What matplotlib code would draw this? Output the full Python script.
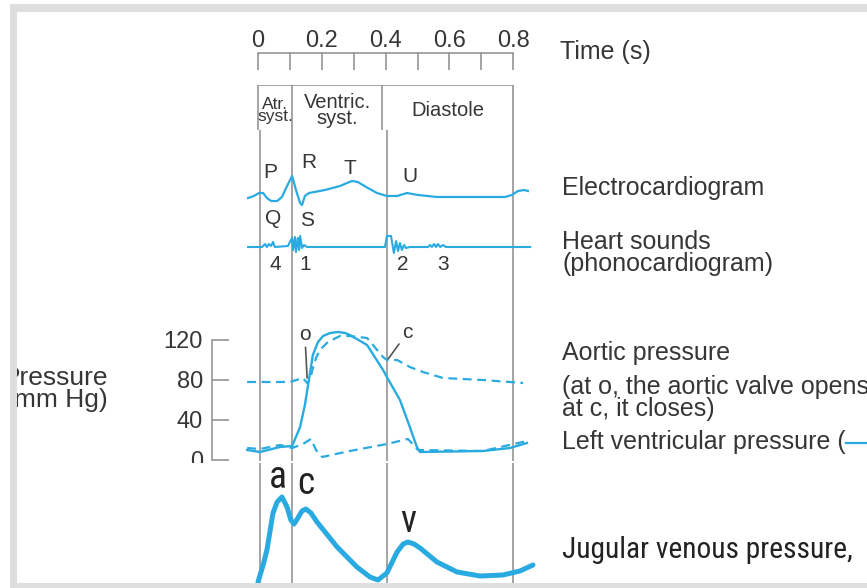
import matplotlib
matplotlib.use('Agg')
import matplotlib.pyplot as plt
from matplotlib import font_manager
from matplotlib.patches import Rectangle
from matplotlib.lines import Line2D

W, H = 867, 588
CYAN = '#29abe2'
GRAY = '#8c8c8c'
INK = '#363636'

# time ruler and phases of the cardiac cycle (s)
ruler_major = [0, 0.2, 0.4, 0.6, 0.8]
ruler_minor = [0.1, 0.3, 0.5, 0.7]
phase_edges = [0.0, 0.107, 0.389, 0.8]
phase_names = ['Atr.\nsyst.', 'Ventric.\nsyst.', 'Diastole']
cycle_lines = [0.005, 0.107, 0.404, 0.8]

# electrocardiogram (arbitrary units)
ecg_t = [-0.031, -0.013, 0.003, 0.016, 0.028, 0.041, 0.060, 0.075, 0.091, 0.107,
         0.119, 0.132, 0.138, 0.147, 0.160, 0.210, 0.257, 0.279, 0.295, 0.313,
         0.339, 0.373, 0.404, 0.436, 0.467, 0.502, 0.561, 0.774, 0.796, 0.815,
         0.834, 0.846]
ecg_v = [-0.1, 0.1, 0.4, 0.4, -0.1, -0.4, -0.4, 0.0, 1.1, 2.1,
         0.7, -0.6, -0.8, 0.1, 0.4, 0.7, 1.1, 1.4, 1.6, 1.5,
         1.0, 0.4, 0.1, 0.1, 0.4, 0.2, 0.0, 0.0, 0.2, 0.6,
         0.7, 0.6]
ecg_labels = ['P', 'R', 'T', 'U', 'Q', 'S']
ecg_label_t = [0.038, 0.160, 0.288, 0.476, 0.047, 0.154]
ecg_label_v = [2.4, 3.5, 2.9, 2.0, -2.1, -2.3]

# phonocardiogram (arbitrary units)
snd_t = [-0.031, 0.013, 0.022, 0.028, 0.034, 0.041, 0.047, 0.053, 0.094, 0.100,
         0.107, 0.110, 0.116, 0.119, 0.125, 0.129, 0.132, 0.138, 0.144, 0.154,
         0.398, 0.404, 0.417, 0.426, 0.433, 0.439, 0.445, 0.451, 0.458, 0.464,
         0.476, 0.533, 0.539, 0.545, 0.552, 0.558, 0.564, 0.571, 0.580, 0.589,
         0.853]
snd_v = [0, 0, 0.3, 0, 0.3, 0.1, 0.5, 0, 0.1, 0.5,
         0.9, -0.3, 1.0, -0.5, 0.9, -0.3, 1.1, -0.1, 0.2, 0,
         0, 1.1, 1.1, -0.6, 0.6, -0.4, 0.4, -0.3, 0.2, -0.1,
         0, 0, 0.2, 0, 0.3, 0, 0.3, 0, 0.2, 0,
         0]
snd_labels = ['4', '1', '2', '3']
snd_label_t = [0.053, 0.147, 0.455, 0.580]

# pressures (mm Hg)
aortic_t = [-0.034, 0.100, 0.141, 0.154, 0.163, 0.172, 0.182, 0.194, 0.219, 0.257,
            0.288, 0.342, 0.392, 0.404, 0.436, 0.476, 0.517, 0.580, 0.705, 0.831]
aortic_p = [78, 78, 82, 77, 80, 92, 102, 110, 118, 124,
            124, 122, 103, 100, 100, 93, 88, 82, 80, 77]
lv_t = [-0.034, 0.006, 0.069, 0.107, 0.132, 0.147, 0.157, 0.172, 0.188, 0.204,
        0.226, 0.251, 0.273, 0.288, 0.342, 0.392, 0.404, 0.445, 0.476, 0.498,
        0.508, 0.705, 0.790, 0.843]
lv_p = [10, 8, 13, 14, 33, 55, 75, 105, 118, 124,
        127, 128, 127, 125, 115, 90, 83, 60, 33, 13,
        8, 9, 12, 17]
la_t = [-0.034, 0.006, 0.069, 0.107, 0.141, 0.166, 0.182, 0.201, 0.288, 0.404,
        0.470, 0.502, 0.705, 0.843]
la_p = [12, 11, 15, 12, 16, 21, 10, 3, 9, 16,
        21, 10, 9, 19]
p_ticks = [0, 40, 80, 120]

# jugular venous pressure (arbitrary units)
jvp_t = [0.000, 0.016, 0.028, 0.047, 0.060, 0.075, 0.091, 0.103, 0.113, 0.125,
         0.138, 0.150, 0.166, 0.185, 0.248, 0.310, 0.351, 0.376, 0.404, 0.436,
         0.455, 0.470, 0.489, 0.508, 0.561, 0.624, 0.696, 0.768, 0.821, 0.862]
jvp_v = [0.3, 2.0, 3.5, 7.2, 8.3, 8.8, 7.8, 6.5, 6.1, 6.7,
         7.4, 7.6, 7.2, 6.3, 3.8, 1.8, 0.8, 0.5, 1.2, 3.3,
         4.1, 4.3, 4.1, 3.7, 2.3, 1.3, 0.9, 1.0, 1.4, 2.0]
jvp_labels = ['a', 'c', 'v']
jvp_label_t = [0.063, 0.150, 0.470]
jvp_label_v = [10.8, 10.2, 6.3]

plt.rcParams['font.family'] = ['Liberation Sans', 'DejaVu Sans']

names = {f.name for f in font_manager.fontManager.ttflist}
narrow = next((n for n in ['Liberation Sans Narrow', 'Roboto Condensed',
                           'Open Sans Condensed'] if n in names), 'Liberation Sans')

fig = plt.figure(figsize=(W / 100, H / 100), dpi=100)

X0, X1 = 150, 540
T0, T1 = (X0 - 258) / 319, (X1 - 258) / 319


def box(x0, y0, x1, y1):
    return [x0 / W, 1 - y1 / H, (x1 - x0) / W, (y1 - y0) / H]


def panel(y0, y1, ylim, bg=None):
    ax = fig.add_axes(box(X0, y0, X1, y1))
    ax.set_xlim(T0, T1)
    ax.set_ylim(*ylim)
    if bg is None:
        ax.axis('off')
    else:
        # keep the patch so the panel hides what lies behind it
        ax.set_facecolor(bg)
        ax.set_xticks([])
        ax.set_yticks([])
        for s in ax.spines.values():
            s.set_visible(False)
    return ax


def label(y, s, va='baseline'):
    fig.text(562 / W, 1 - y / H, s, fontsize=18, color=INK, va=va, linespacing=0.9)


# background vertical lines
ax_bg = panel(130, 461, (0, 1))
ax_bg.vlines(cycle_lines, 0, 1, color=GRAY, lw=1.1)

# time ruler
ax_t = fig.add_axes(box(X0, 53, X1, 70))
ax_t.set_xlim(T0, T1)
ax_t.patch.set_visible(False)
for s in ['left', 'right', 'bottom']:
    ax_t.spines[s].set_visible(False)
ax_t.spines['top'].set_bounds(0, 0.8)
ax_t.spines['top'].set_color(GRAY)
ax_t.spines['top'].set_linewidth(1.1)
ax_t.set_yticks([])
ax_t.xaxis.tick_top()
ax_t.set_xticks(ruler_major)
ax_t.set_xticklabels(['0', '0.2', '0.4', '0.6', '0.8'])
ax_t.set_xticks(ruler_minor, minor=True)
ax_t.tick_params(axis='x', which='both', direction='in', length=12, width=1.1,
                 color=GRAY, labelsize=17, labelcolor=INK, pad=0.5)
fig.text(560 / W, 1 - 59 / H, 'Time (s)', fontsize=18, color=INK, va='baseline')

# phase box
ax_ph = panel(85, 130, (0, 1))
ax_ph.vlines(phase_edges, 0, 1, color=GRAY, lw=1.1)
ax_ph.hlines(1, phase_edges[0], phase_edges[-1], color=GRAY, lw=1.1)
for a, b, name in zip(phase_edges[:-1], phase_edges[1:], phase_names):
    size = 12.5 if b - a < 0.15 else 14.5
    ax_ph.text((a + b) / 2, 0.43, name, ha='center', va='center', fontsize=size,
               color=INK, linespacing=0.8)

# ECG
ax_e = panel(150, 215, (-1.8, 4.7))
ax_e.plot(ecg_t, ecg_v, color=CYAN, lw=1.6, solid_joinstyle='round')
for lab, t, v in zip(ecg_labels, ecg_label_t, ecg_label_v):
    ax_e.text(t, v, lab, ha='center', va='center', fontsize=15, color=INK)
label(195, 'Electrocardiogram')

# heart sounds
ax_s = panel(225, 270, (-2.3, 2.2))
ax_s.plot(snd_t, snd_v, color=CYAN, lw=1.5, solid_joinstyle='round')
for lab, t in zip(snd_labels, snd_label_t):
    ax_s.text(t, -1.8, lab, ha='center', va='center', fontsize=15, color=INK)
label(253, 'Heart sounds\n(phonocardiogram)', va='center')

# pressures
ax_p = fig.add_axes(box(X0, 325, X1, 462))
ax_p.set_xlim(T0, T1)
ax_p.set_ylim(-2, 135)
ax_p.patch.set_visible(False)
for s in ['top', 'right', 'bottom']:
    ax_p.spines[s].set_visible(False)
ax_p.spines['left'].set_position(('axes', (212 - X0) / (X1 - X0)))
ax_p.spines['left'].set_bounds(0, 120)
ax_p.spines['left'].set_color(GRAY)
ax_p.spines['left'].set_linewidth(1.1)
ax_p.set_xticks([])
ax_p.set_yticks(p_ticks)
ax_p.set_yticklabels([str(v) for v in p_ticks])
ax_p.tick_params(axis='y', direction='in', length=12, width=1.1, color=GRAY,
                 labelsize=17, labelcolor=INK, pad=6.5)
ax_p.plot(aortic_t, aortic_p, color=CYAN, lw=1.6, dashes=(4, 2.5))
ax_p.plot(la_t, la_p, color=CYAN, lw=1.6, dashes=(4, 2.5))
ax_p.plot(lv_t, lv_p, color=CYAN, lw=1.7, solid_joinstyle='round')
arrow = dict(arrowstyle='-', color='#555555', lw=1.2, shrinkA=0, shrinkB=0)
ax_p.annotate('o', xy=(0.154, 82), xytext=(0.147, 125), ha='center', va='center',
              fontsize=15, color=INK, arrowprops=arrow)
ax_p.annotate('c', xy=(0.408, 101), xytext=(0.467, 127), ha='center', va='center',
              fontsize=15, color=INK, arrowprops=arrow)
fig.text(108 / W, 1 - 389 / H, 'Pressure\n(mm Hg)', fontsize=19, color=INK,
         ha='right', va='center', linespacing=0.9)
label(360, 'Aortic pressure')
label(398, '(at o, the aortic valve opens\nat c, it closes)', va='center')
label(449, 'Left ventricular pressure (')
fig.add_artist(Line2D([846 / W, 872 / W], [1 - 443 / H, 1 - 443 / H], color=CYAN, lw=1.6))

# jugular venous pressure (pasted panel, white background)
ax_j = panel(463, 583, (0.2, 12.2), bg='white')
ax_j.vlines(cycle_lines, 0, 1, transform=ax_j.get_xaxis_transform(), color=GRAY, lw=1.1)
ax_j.plot(jvp_t, jvp_v, color=CYAN, lw=3.6, solid_joinstyle='round',
          solid_capstyle='round')
for lab, t, v in zip(jvp_labels, jvp_label_t, jvp_label_v):
    ax_j.text(t, v, lab, ha='center', va='center', fontsize=27, color='#222222',
              family=narrow)

jt = fig.text(562 / W, 1 - 558 / H, 'Jugular venous pressure,', fontsize=26,
              color='#222222', va='baseline', family=narrow)
renderer = fig.canvas.get_renderer()
w = jt.get_window_extent(renderer).width
jt.set_fontsize(26 * 292 / w)

# edge of the screenshot: white margin, then a light grey frame
for x0, y0, x1, y1, c in [(0, 0, 10, 588, 'white'), (10, 4, 17, 588, '#dedede'),
                          (10, 4, 867, 12, '#dedede'), (10, 583, 867, 588, '#dedede')]:
    fig.add_artist(Rectangle((x0 / W, 1 - y1 / H), (x1 - x0) / W, (y1 - y0) / H,
                             transform=fig.transFigure, color=c, zorder=10, lw=0))

fig.savefig('out.png', dpi=100)
